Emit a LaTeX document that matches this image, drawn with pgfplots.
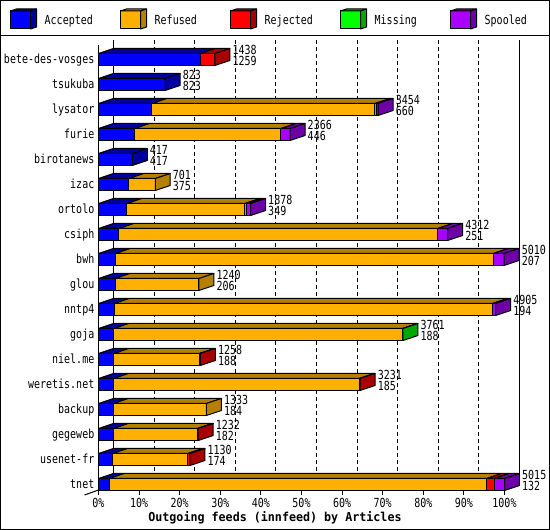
\documentclass[border=0pt]{standalone}
\usepackage{pgfplots}
\pgfplotsset{compat=1.18}
\usepackage{pgfplotstable}
\usepackage{fontspec}
\setmonofont[FakeStretch=0.8]{DejaVu Sans Mono}
\newfontfamily\labfont[FakeStretch=0.95]{DejaVu Sans Mono}
\newcommand\cf{\ttfamily\fontsize{12.5}{14}\selectfont}

\definecolor{cblue}{RGB}{0,0,255}
\definecolor{cblueD}{RGB}{0,0,160}
\definecolor{corange}{RGB}{255,176,0}
\definecolor{corangeD}{RGB}{180,128,0}
\definecolor{cred}{RGB}{255,0,0}
\definecolor{credD}{RGB}{168,0,0}
\definecolor{cgreen}{RGB}{0,255,0}
\definecolor{cgreenD}{RGB}{0,168,0}
\definecolor{cpurple}{RGB}{170,0,255}
\definecolor{cpurpleD}{RGB}{110,0,168}

% rows: 17 = bete-des-vosges (top) ... 0 = tnet (bottom)
\pgfplotstableread{
row acc ref rej mis spo
17 1259 0 179 0 0
16 823 0 0 0 0
15 660 2755 0 25 14
14 446 1808 0 0 112
13 417 0 0 0 0
12 375 326 0 0 0
11 349 1460 0 18 51
10 251 3938 0 0 123
9 207 4669 0 0 134
8 206 1034 0 0 0
7 194 4671 0 0 40
6 188 3567 0 6 0
5 188 1058 12 0 0
4 185 3036 10 0 0
3 184 1149 0 0 0
2 182 1038 12 0 0
1 174 928 28 0 0
0 132 4662 94 0 127
}\feeds

\newcommand\DX{185.27}
\newcommand\HH{0.24}
\newcommand\DY{0.2}

\newcommand\topface[4]{%
  \pgfmathsetmacro\ya{#1+\HH}%
  \pgfmathsetmacro\yb{#1+\HH+\DY}%
  \pgfmathsetmacro\xc{#3+\DX}%
  \pgfmathsetmacro\xd{#2+\DX}%
  \edef\doplot{\noexpand\addplot[fill=#4,draw=black,forget plot] coordinates {(#2,\ya) (#3,\ya) (\xc,\yb) (\xd,\yb) (#2,\ya)};}%
  \doplot}
\newcommand\sideface[3]{%
  \pgfmathsetmacro\ya{#1-\HH}%
  \pgfmathsetmacro\yb{#1+\HH}%
  \pgfmathsetmacro\yc{#1+\HH+\DY}%
  \pgfmathsetmacro\yd{#1-\HH+\DY}%
  \pgfmathsetmacro\xc{#2+\DX}%
  \edef\doplot{\noexpand\addplot[fill=#3,draw=black,forget plot] coordinates {(#2,\ya) (\xc,\yd) (\xc,\yc) (#2,\yb) (#2,\ya)};}%
  \doplot}

\tikzset{vlab/.style={font=\cf, anchor=base west, inner sep=0pt, xshift=2.5pt}}

\begin{document}
\begin{tikzpicture}
\begin{axis}[
  at={(98.5pt,40pt)}, anchor=south west,
  scale only axis, width=406pt, height=445pt,
  xmin=0, xmax=5015, ymin=-0.22, ymax=17.58,
  clip=false,
  axis x line*=bottom, axis y line*=left,
  axis line style={black, line width=1pt},
  every axis plot/.append style={line width=1pt, line join=round},
  xtick={0,501.5,1003,1504.5,2006,2507.5,3009,3510.5,4012,4513.5,5015},
  xticklabels={0\%,10\%,20\%,30\%,40\%,50\%,60\%,70\%,80\%,90\%,100\%},
  ytick={0,...,17},
  yticklabels={tnet,usenet-fr,gegeweb,backup,weretis.net,niel.me,goja,nntp4,glou,bwh,csiph,ortolo,izac,birotanews,furie,lysator,tsukuba,bete-des-vosges},
  ytick style={draw=none},
  xtick style={black, line width=1pt},
  tick align=outside, major tick length=5pt,
  tick label style={font=\cf},
  yticklabel style={anchor=base east, inner sep=0pt, xshift=1pt, yshift=-4.5pt},
  xticklabel style={anchor=base, inner sep=0pt, yshift=-12.5pt},
  xmajorgrids,
  major grid style={black, line width=1pt, dash pattern=on 4pt off 3pt, xshift=15pt, yshift=5pt},
  extra x ticks={0,5015}, extra x tick labels={,},
  extra x tick style={major grid style={solid}},
  xlabel={Outgoing feeds (innfeed) by Articles},
  xlabel style={font=\labfont\bfseries\fontsize{12.3}{14}\selectfont, at={(axis description cs:0.4347,0)}, anchor=base, inner sep=0pt, yshift=-31.5pt},
]
% front faces: cumulative bars drawn from longest to shortest
\addplot[xbar, bar shift=0pt, bar width=12pt, fill=cpurple, draw=black, forget plot]
  table[y=row, x expr=\thisrow{acc}+\thisrow{ref}+\thisrow{rej}+\thisrow{mis}+\thisrow{spo}] {\feeds};
\addplot[xbar, bar shift=0pt, bar width=12pt, fill=cgreen, draw=black, forget plot]
  table[y=row, x expr=\thisrow{acc}+\thisrow{ref}+\thisrow{rej}+\thisrow{mis}] {\feeds};
\addplot[xbar, bar shift=0pt, bar width=12pt, fill=cred, draw=black, forget plot]
  table[y=row, x expr=\thisrow{acc}+\thisrow{ref}+\thisrow{rej}] {\feeds};
\addplot[xbar, bar shift=0pt, bar width=12pt, fill=corange, draw=black, forget plot]
  table[y=row, x expr=\thisrow{acc}+\thisrow{ref}] {\feeds};
\addplot[xbar, bar shift=0pt, bar width=12pt, fill=cblue, draw=black, forget plot]
  table[y=row, x=acc] {\feeds};
% top and side faces + value labels
\pgfplotsforeachungrouped \i in {0,...,17}{%
  \pgfplotstablegetelem{\i}{row}\of\feeds \edef\R{\pgfplotsretval}%
  \pgfplotstablegetelem{\i}{acc}\of\feeds \edef\vA{\pgfplotsretval}%
  \pgfplotstablegetelem{\i}{ref}\of\feeds \edef\vB{\pgfplotsretval}%
  \pgfplotstablegetelem{\i}{rej}\of\feeds \edef\vC{\pgfplotsretval}%
  \pgfplotstablegetelem{\i}{mis}\of\feeds \edef\vD{\pgfplotsretval}%
  \pgfplotstablegetelem{\i}{spo}\of\feeds \edef\vE{\pgfplotsretval}%
  \pgfmathsetmacro\cA{\vA}%
  \pgfmathsetmacro\cB{\cA+\vB}%
  \pgfmathsetmacro\cC{\cB+\vC}%
  \pgfmathsetmacro\cD{\cC+\vD}%
  \pgfmathsetmacro\cE{\cD+\vE}%
  \ifdim\vA pt>0pt \topface{\R}{0}{\cA}{cblueD}\edef\last{cblueD}\fi
  \ifdim\vB pt>0pt \topface{\R}{\cA}{\cB}{corangeD}\edef\last{corangeD}\fi
  \ifdim\vC pt>0pt \topface{\R}{\cB}{\cC}{credD}\edef\last{credD}\fi
  \ifdim\vD pt>0pt \topface{\R}{\cC}{\cD}{cgreenD}\edef\last{cgreenD}\fi
  \ifdim\vE pt>0pt \topface{\R}{\cD}{\cE}{cpurpleD}\edef\last{cpurpleD}\fi
  \sideface{\R}{\cE}{\last}%
  \pgfmathtruncatemacro\tot{\cE}%
  \pgfmathsetmacro\xl{\cE+\DX}%
  \edef\donode{\noexpand\node[vlab, yshift=4.5pt] at (axis cs:\xl,\R) {\tot};
    \noexpand\node[vlab, yshift=-6.5pt] at (axis cs:\xl,\R) {\vA};}%
  \donode
}
\draw[line width=1pt] (rel axis cs:0,0) -- ++(-14pt,-5pt);
\end{axis}
% frame and legend
\draw[line width=1pt] (0.5pt,0.5pt) rectangle (549.5pt,529.5pt);
\draw[line width=1pt] (0pt,494.5pt) -- (550pt,494.5pt);
\foreach \k/\c/\t in {0/cblue/Accepted,1/corange/Refused,2/cred/Rejected,3/cgreen/Missing,4/cpurple/Spooled}{
  \pgfmathsetmacro\xo{10.5+110*\k}
  \draw[line width=1pt, line join=round, fill=\c] (\xo pt,501pt) rectangle ++(20pt,18pt);
  \draw[line width=1pt, line join=round, fill=\c D] (\xo pt,519pt) -- ++(20pt,0pt) -- ++(6pt,2pt) -- ++(-20pt,0pt) -- cycle;
  \draw[line width=1pt, line join=round, fill=\c D] (\xo pt+20pt,501pt) -- ++(6pt,2pt) -- ++(0pt,18pt) -- ++(-6pt,-2pt) -- cycle;
  \node[font=\cf, anchor=base west, inner sep=0pt] at (\xo pt+34pt,505.5pt) {\t};
}
\pgfresetboundingbox
\path (0pt,0pt) rectangle (550pt,530pt);
\end{tikzpicture}
\end{document}
